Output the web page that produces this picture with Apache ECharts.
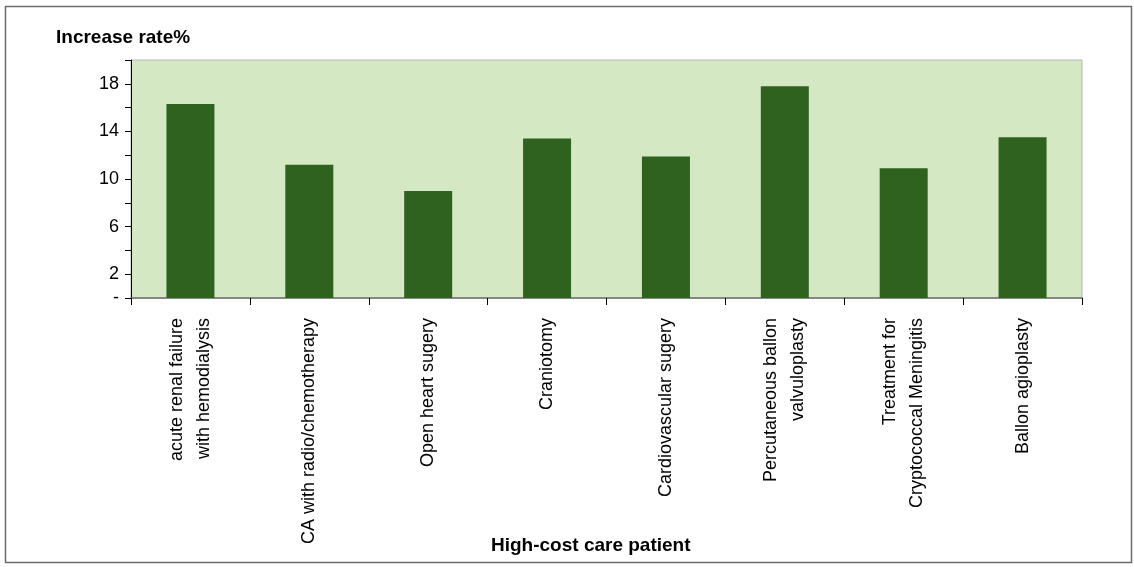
<!DOCTYPE html>
<html>
<head>
<meta charset="utf-8">
<style>
  html, body { margin: 0; padding: 0; background: #ffffff; }
  #chart { width: 1134px; height: 567px; }
</style>
<script src="https://cdn.jsdelivr.net/npm/echarts@6/dist/echarts.min.js"></script>
</head>
<body>
<div id="chart"></div>
<script>
// Procedure categories (line breaks as set in the axis labels)
const categories = [
  'acute renal failure\nwith hemodialysis',
  'CA with radio/chemotherapy',
  'Open heart sugery',
  'Craniotomy',
  'Cardiovascular sugery',
  'Percutaneous ballon\nvalvuloplasty',
  'Treatment for\nCryptococcal Meningitis',
  'Ballon agioplasty'
];

// Increase rate (%) per procedure
const increaseRate = [16.3, 11.2, 9.0, 13.4, 11.9, 17.8, 10.9, 13.5];

// Value axis range and labelled ticks
const yMin = 0;
const yMax = 20;
const yStep = 2;
const yLabelled = [2, 6, 10, 14, 18];

const font = '"Liberation Sans", Arial, Helvetica, sans-serif';

const chart = echarts.init(document.getElementById('chart'), null, { renderer: 'canvas' });

chart.setOption({
  animation: false,
  backgroundColor: '#ffffff',
  textStyle: { fontFamily: font },
  title: [
    {
      text: 'Increase rate%',
      left: 51, top: 23,
      textStyle: { fontFamily: font, fontSize: 19, fontWeight: 'bold', color: '#000' }
    },
    {
      text: 'High-cost care patient',
      left: 486, top: 531,
      textStyle: { fontFamily: font, fontSize: 19, fontWeight: 'bold', color: '#000' }
    }
  ],
  graphic: [
    {
      type: 'rect',
      shape: { x: 5.5, y: 6.5, width: 1126, height: 556 },
      style: { fill: 'none', stroke: '#6b6b6b', lineWidth: 1.5 },
      silent: true,
      z: 100
    }
  ],
  grid: {
    left: 131, right: 52, top: 60, bottom: 269,
    show: true,
    backgroundColor: '#d3e8c3',
    borderColor: '#b4b4b4',
    borderWidth: 1
  },
  xAxis: {
    type: 'category',
    data: categories,
    axisLine: { show: true, lineStyle: { color: '#6e6e6e', width: 1.5 } },
    axisTick: { show: true, alignWithLabel: false, length: 7, lineStyle: { color: '#000', width: 1 } },
    axisLabel: {
      interval: 0,
      rotate: 90,
      margin: 20,
      fontSize: 18,
      lineHeight: 27,
      color: '#000',
      fontFamily: font
    },
    splitLine: { show: false }
  },
  yAxis: {
    type: 'value',
    min: yMin,
    max: yMax,
    interval: yStep,
    axisLine: { show: true, lineStyle: { color: '#000', width: 1 } },
    axisTick: { show: true, length: 6, lineStyle: { color: '#000', width: 1 } },
    axisLabel: {
      fontSize: 18,
      color: '#000',
      margin: 12,
      fontFamily: font,
      formatter: function (v) {
        if (v === yMin) return '-';
        return yLabelled.indexOf(v) >= 0 ? String(v) : '';
      }
    },
    splitLine: { show: false }
  },
  series: [
    {
      type: 'bar',
      data: increaseRate,
      barWidth: 48,
      itemStyle: { color: '#2f621e' },
      silent: true
    }
  ]
});
</script>
</body>
</html>
